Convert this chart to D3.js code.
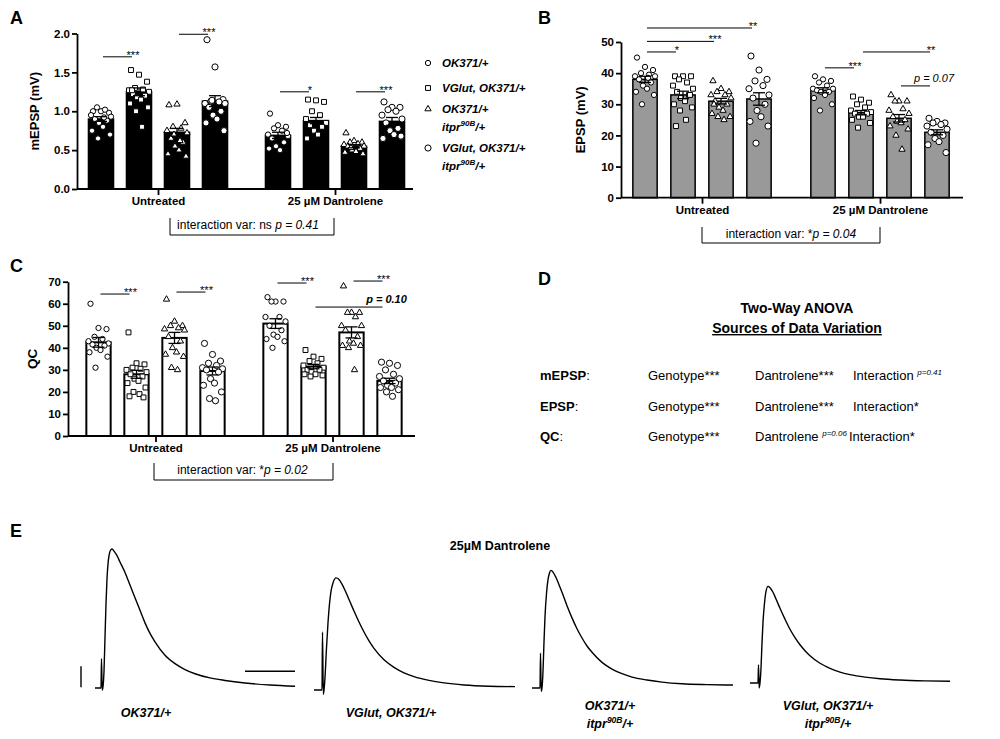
<!DOCTYPE html>
<html><head><meta charset="utf-8">
<script src="https://cdnjs.cloudflare.com/ajax/libs/d3/7.8.5/d3.min.js"></script>
<style>body{margin:0;background:#fff} svg text{font-family:'Liberation Sans',Arial,Helvetica,sans-serif} .sig{opacity:0.999}</style>
</head><body><svg id="fig" width="1000" height="739"></svg>
<script>
// ---------------- DATA ----------------
const groups = ["Untreated", "25 µM Dantrolene"];
const genotypes = ["OK371/+", "VGlut, OK371/+", "OK371/+ itpr90B/+", "VGlut, OK371/+ itpr90B/+"];
const shapes = ["circle", "square", "triangle", "bigcircle"];

// mEPSP (mV) : order = Untreated g1..g4, Dantrolene g1..g4
const mepspMean = [0.90, 1.25, 0.73, 1.13, 0.69, 0.88, 0.55, 0.87];
const mepspSem  = [0.03, 0.05, 0.05, 0.07, 0.04, 0.04, 0.02, 0.05];
const mepspPts = [
  [1.00, 1.00, 0.98, 1.05, 1.02, 0.95, 0.93, 0.90, 0.88, 0.85, 0.80, 0.75, 0.70, 0.65, 0.92],
  [1.53, 1.47, 1.38, 1.30, 1.28, 1.27, 1.25, 1.22, 1.20, 1.18, 1.15, 1.10, 1.05, 1.00, 0.80, 1.27],
  [1.08, 1.09, 0.85, 0.80, 0.78, 0.75, 0.72, 0.65, 0.60, 0.55, 0.50, 0.45, 0.42, 0.70, 0.62],
  [1.92, 1.57, 1.15, 1.13, 1.12, 1.10, 1.10, 1.05, 1.00, 0.95, 0.90, 0.85, 0.75, 1.14],
  [0.97, 0.82, 0.80, 0.78, 0.75, 0.70, 0.68, 0.65, 0.60, 0.55, 0.50, 0.52, 0.72],
  [1.15, 1.14, 1.12, 1.00, 0.95, 0.90, 0.85, 0.82, 0.80, 0.75, 0.70, 0.65],
  [0.72, 0.62, 0.60, 0.60, 0.58, 0.57, 0.55, 0.55, 0.52, 0.50, 0.48, 0.47, 0.45, 0.53],
  [1.12, 1.05, 1.05, 1.02, 1.00, 0.95, 0.90, 0.85, 0.78, 0.75, 0.70, 0.65, 0.68]
];

// EPSP (mV)
const epspMean = [38.0, 33.0, 31.0, 31.7, 34.5, 27.3, 25.5, 21.0];
const epspSem  = [1.0, 1.2, 0.9, 2.0, 0.8, 0.7, 1.2, 0.8];
const epspPts = [
  [45, 42, 41, 40, 39.5, 39, 39, 38, 37, 36, 35, 34, 33, 30, 38.5],
  [39, 39, 39, 38, 37, 36, 35, 34, 33, 32, 31, 30, 29, 28, 25, 23, 33],
  [37.5, 35, 34, 34, 33, 33, 32, 31, 30, 29, 28, 27, 26, 26, 25, 30],
  [45.5, 41, 38, 37.5, 36, 35, 33, 32, 30, 28, 26, 24.5, 23, 17.5],
  [39, 38, 37.5, 37, 36, 35, 35, 34.5, 34, 34, 33, 32, 30, 28],
  [32.5, 31.5, 30.5, 30, 29, 28, 27.5, 27, 27, 26, 26, 25, 24, 22.5],
  [33, 31, 31, 31, 28.5, 28, 27, 26, 25, 24.5, 24, 23, 22, 20, 15.5],
  [25.5, 24.5, 24, 24, 23.5, 23, 22, 21, 20, 19, 18, 17, 14.5]
];

// QC
const qcMean = [42.5, 28.0, 44.5, 29.5, 51.0, 31.5, 47.0, 25.0];
const qcSem  = [2.2, 1.8, 2.5, 1.8, 2.2, 1.0, 2.5, 1.2];
const qcPts = [
  [60, 49, 48.5, 45, 44, 43, 42, 41.5, 41, 40, 39, 38, 36, 31],
  [47, 33, 32.5, 31, 30.5, 30, 29, 28, 27, 26, 25, 24, 22, 20, 19, 18, 17.5],
  [62, 52, 50, 50, 49, 48.5, 48, 45, 43, 40, 38, 37, 36, 31, 30],
  [42, 37, 34, 33, 32, 31, 30.5, 30, 29, 26, 24, 23, 20, 17, 16],
  [63, 61, 61, 61, 54, 54, 52, 50, 48, 46, 45, 44, 43, 40],
  [39, 36, 35, 34, 33, 32, 31, 30, 30, 29, 28, 28, 27.5, 27],
  [68, 56, 56, 56, 54, 50, 50, 48, 45, 43, 42, 41, 41, 40, 30],
  [33.5, 33, 32, 30, 28, 27, 26, 25, 24, 23, 22, 22, 21, 20, 18]
];

// significance: [group, fromBar, toBar, yValue, label]
const sigA = [[0,0,1,1.70,"***"],[0,2,3,1.99,"***"],[1,0,1,1.25,"*"],[1,2,3,1.25,"***"]];
const sigB = [[0,0,3,54.5,"**"],[0,0,2,50.2,"***"],[0,0,1,46.8,"*"],[1,0,1,41.7,"***"],[1,1,3,46.8,"**"],[1,2,3,35.9,"p = 0.07"]];
const sigC = [[0,0,1,64.4,"***"],[0,2,3,65.3,"***"],[1,0,1,69.4,"***"],[1,2,3,70.3,"***"],[1,1,3,58.5,"p = 0.10"]];

const ticksA = [0, 0.5, 1.0, 1.5, 2.0];
const ticksB = [0, 10, 20, 30, 40, 50];
const ticksC = [0, 10, 20, 30, 40, 50, 60, 70];

// ANOVA table
const anovaRows = ["mEPSP", "EPSP", "QC"];
const anovaGenotype = ["***", "***", "***"];
const anovaDantrolene = ["***", "***", "p=0.06"];
const anovaInteraction = ["p=0.41", "*", "*"];

// Representative EPSP traces (time ms, voltage mV above baseline)
const traceT1 = [0,6,6.5,7.2,8,9,10,11,12,13,14,15.5,17,19,22,25,30,35,40,45,50,55,60,70,80,90,100,115,130,150,175,200];
const traceV1 = [0,0,7,-0.5,0.3,4,12,20,26,29.5,31.5,32.8,33.1,32.6,31.5,30,27.5,24.5,21.5,18.5,15.5,13,11,7.8,5.8,4.4,3.4,2.4,1.8,1.2,0.7,0.4];
const traceT2 = [0,8,8.5,9.3,10,11,12.5,14,15.5,17,19,22,25,28,32,36,40,45,50,55,60,70,80,90,100,115,130,150,175,201];
const traceV2 = [0,0,13.8,-1,0,3,10,16,20.5,23.5,25.5,26.7,26.3,25.2,23.2,21,18.8,16.2,13.8,11.7,9.9,7.2,5.4,4.1,3.2,2.3,1.7,1.2,0.9,0.8];
const traceT3 = [0,8,8.5,9.2,10,11,12,13,14.5,16,17.5,19,21,24,27,30,35,40,45,50,55,60,70,80,90,100,115,130,150,175,201];
const traceV3 = [0,0,8.3,-0.8,0,4,11,17,22.5,25.8,27.4,28,27.6,26.3,24.6,22.8,19.6,16.7,14.1,11.9,10,8.5,6.1,4.5,3.4,2.6,1.9,1.4,1,0.8,0.7];
const traceT4 = [0,8,8.5,9.2,10,11,12,13,14.5,16,18,20,23,26,30,35,40,45,50,55,60,70,80,90,100,115,130,150,175,200];
const traceV4 = [0,0,4.3,-1.2,0,3.5,9.5,14.5,19,21.8,23,22.7,21.6,20,17.8,15.2,12.8,10.8,9.1,7.7,6.5,4.7,3.5,2.6,2,1.4,1.0,0.7,0.5,0.4];
const scaleBarMV = 5, scaleBarMS = 50;

// ---------------- DRAWING ----------------
const svg = d3.select("#fig");
const jit = [-8, 0, 8, -4, 4, -10, 10, -6, 6, -2, 2, -9, 9, -3, 3, -7, 7];

function marker(sel, shape) {
  const sym = {
    circle: d3.symbol(d3.symbolCircle, 22),
    bigcircle: d3.symbol(d3.symbolCircle, 30),
    square: d3.symbol(d3.symbolSquare, 24),
    triangle: d3.symbol(d3.symbolTriangle, 17)
  }[shape];
  return sel.attr("d", sym()).attr("fill", "#fff").attr("stroke", "#000").attr("stroke-width", 1);
}

function panelLabel(t, x, y) {
  svg.append("text").attr("x", x).attr("y", y).attr("font-size", 18).attr("font-weight", "bold").text(t);
}

function barPanel(o) {
  const g = svg.append("g");
  const y = d3.scaleLinear().domain([o.ticks[0], o.ticks[o.ticks.length - 1]]).range([o.y0, o.y1]);
  const gx = d3.scalePoint().domain(groups).range(o.groupRange);
  const ix = d3.scaleBand().domain(genotypes).range([-76, 76]).paddingInner(o.pi).paddingOuter(o.pi / 2);
  const bw = ix.bandwidth();
  const cx = (gi, k) => gx(groups[gi]) + ix(genotypes[k]) + bw / 2;

  const bars = [];
  groups.forEach((gr, gi) => genotypes.forEach((ge, k) => {
    const idx = gi * 4 + k;
    bars.push({gi, k, mean: o.mean[idx], sem: o.sem[idx], pts: o.pts[idx]});
  }));

  g.selectAll("rect.bar").data(bars).join("rect")
    .attr("x", d => cx(d.gi, d.k) - bw / 2).attr("width", bw)
    .attr("y", d => y(d.mean)).attr("height", d => y(0) - y(d.mean))
    .attr("fill", o.fill).attr("stroke", "#000").attr("stroke-width", o.strokeW);

  bars.forEach(b => {
    g.selectAll(null).data(b.pts).join("path")
      .call(s => marker(s, shapes[b.k]))
      .attr("transform", (v, i) => `translate(${cx(b.gi, b.k) + jit[i % jit.length]},${y(v)})`);
  });

  bars.forEach(b => {
    const x = cx(b.gi, b.k);
    const eg = g.append("g").attr("stroke", "#000").attr("stroke-width", 1.3);
    eg.append("line").attr("x1", x).attr("x2", x).attr("y1", y(b.mean + b.sem)).attr("y2", y(b.mean - b.sem));
    [b.mean + b.sem, b.mean - b.sem].forEach(v =>
      eg.append("line").attr("x1", x - 6).attr("x2", x + 6).attr("y1", y(v)).attr("y2", y(v)));
  });

  const ya = g.append("g").attr("transform", `translate(${o.axisX},0)`)
    .call(d3.axisLeft(y).tickValues(o.ticks).tickFormat(o.fmt).tickSize(5).tickSizeOuter(0));
  ya.select(".domain").attr("stroke-width", 1.8);
  ya.selectAll(".tick line").attr("stroke-width", 1.8);
  ya.selectAll(".tick text").attr("font-size", 11.5).attr("font-weight", "bold").attr("fill", "#000")
    .attr("font-family", "'Liberation Sans',Arial,sans-serif").attr("x", -7);

  g.append("line").attr("x1", o.axisX).attr("x2", o.axisEnd).attr("y1", y(0)).attr("y2", y(0))
    .attr("stroke", "#000").attr("stroke-width", 1.8);
  const xa = g.append("g").attr("transform", `translate(0,${y(0)})`)
    .call(d3.axisBottom(gx).tickSize(6).tickSizeOuter(0));
  xa.select(".domain").remove();
  xa.selectAll(".tick line").attr("stroke-width", 1.8);
  xa.selectAll(".tick text").attr("font-size", 11.5).attr("font-weight", "bold").attr("fill", "#000")
    .attr("font-family", "'Liberation Sans',Arial,sans-serif").attr("dy", "0.55em").attr("y", 10);

  g.append("text").attr("transform", `translate(${o.labelX},${(o.y0 + o.y1) / 2 + o.labelDy}) rotate(-90)`)
    .attr("text-anchor", "middle").attr("font-size", o.labelSize).attr("font-weight", "bold").text(o.label);

  o.sig.forEach(([gi, a, b, v, lab]) => {
    const x1 = cx(gi, a) + 2, x2 = cx(gi, b) - 7, yy = y(v);
    g.append("line").attr("x1", x1).attr("x2", x2).attr("y1", yy).attr("y2", yy)
      .attr("stroke", "#000").attr("stroke-width", 1);
    const isP = lab.startsWith("p");
    g.append("text").attr("class", "sig").attr("x", isP ? x2 + 4 : x2 + 1).attr("y", isP ? yy - 4 : yy + 2)
      .attr("text-anchor", "middle").attr("font-size", isP ? 11 : 11).attr("fill", "#000")
      .attr("font-style", isP ? "italic" : "normal").attr("font-weight", isP && o.pBold ? "bold" : "normal")
      .text(lab);
  });

  const br = o.bracket;
  g.append("path").attr("d", `M${br.x0},${br.top}V${br.bot}H${br.x1}V${br.top}`)
    .attr("fill", "none").attr("stroke", "#000").attr("stroke-width", 1);
  const t = g.append("text").attr("x", (br.x0 + br.x1) / 2 + br.dx).attr("y", br.top + 11)
    .attr("text-anchor", "middle").attr("font-size", 12);
  t.append("tspan").text(br.pre);
  t.append("tspan").attr("font-style", "italic").text(br.p);
}

// Panel A
panelLabel("A", 10, 24);
barPanel({
  mean: mepspMean, sem: mepspSem, pts: mepspPts, ticks: ticksA, fmt: d3.format(".1f"),
  axisX: 77, axisEnd: 413, y0: 189, y1: 33.5, groupRange: [158, 335], pi: 0.34,
  fill: "#000", strokeW: 1.5, label: "mEPSP (mV)", labelX: 39, labelDy: 0, labelSize: 13,
  sig: sigA, pBold: false,
  bracket: {x0: 170, x1: 334, top: 218, bot: 235, pre: "interaction var: ns ", p: "p = 0.41", dx: -4}
});

// Legend A
const legendItems = [
  {shape: "circle", y: 63, l1: "OK371/+", sup: false},
  {shape: "square", y: 88, l1: "VGlut, OK371/+", sup: false},
  {shape: "triangle", y: 109, l1: "OK371/+", sup: true},
  {shape: "bigcircle", y: 148, l1: "VGlut, OK371/+", sup: true}
];
legendItems.forEach(it => {
  svg.append("path").call(s => marker(s, it.shape)).attr("transform", `translate(428,${it.y})`);
  svg.append("text").attr("x", 442).attr("y", it.y + 4).attr("font-size", 11.5)
    .attr("font-weight", "bold").attr("font-style", "italic").text(it.l1);
  if (it.sup) {
    const t = svg.append("text").attr("x", 442).attr("y", it.y + 22).attr("font-size", 11.5)
      .attr("font-weight", "bold").attr("font-style", "italic");
    t.append("tspan").text("itpr");
    t.append("tspan").attr("font-size", 8).attr("dy", -5).text("90B");
    t.append("tspan").attr("dy", 5).text("/+");
  }
});

// Panel B
panelLabel("B", 538, 24);
barPanel({
  mean: epspMean, sem: epspSem, pts: epspPts, ticks: ticksB, fmt: d3.format("d"),
  axisX: 621, axisEnd: 963, y0: 197.7, y1: 42, groupRange: [702, 880], pi: 0.36,
  fill: "#999", strokeW: 1.5, label: "EPSP (mV)", labelX: 585, labelDy: 0, labelSize: 13,
  sig: sigB, pBold: false,
  bracket: {x0: 702, x1: 880, top: 227, bot: 243, pre: "interaction var: *", p: "p = 0.04", dx: 0}
});

// Panel C
panelLabel("C", 10, 272);
barPanel({
  mean: qcMean, sem: qcSem, pts: qcPts, ticks: ticksC, fmt: d3.format("d"),
  axisX: 68, axisEnd: 415, y0: 436, y1: 281.7, groupRange: [155.5, 332.5], pi: 0.36,
  fill: "#fff", strokeW: 2, label: "QC", labelX: 37, labelDy: 0, labelSize: 13.5,
  sig: sigC, pBold: true,
  bracket: {x0: 154, x1: 333, top: 463, bot: 480, pre: "interaction var: *", p: "p = 0.02", dx: -1}
});

// Panel D
panelLabel("D", 538, 285);
svg.append("text").attr("x", 797).attr("y", 313).attr("text-anchor", "middle")
  .attr("font-size", 14).attr("font-weight", "bold").text("Two-Way ANOVA");
svg.append("text").attr("x", 797).attr("y", 333).attr("text-anchor", "middle")
  .attr("font-size", 14).attr("font-weight", "bold").attr("text-decoration", "underline")
  .text("Sources of Data Variation");
const rowY = d3.scalePoint().domain(anovaRows).range([380, 441]);
function sigText(sel, base, s) {
  sel.append("tspan").text(base);
  if (s.startsWith("p")) {
    sel.append("tspan").text(" ");
    sel.append("tspan").attr("font-size", 8).attr("font-style", "italic").attr("dy", -5).text(s);
  } else sel.append("tspan").text(s);
}
anovaRows.forEach((r, i) => {
  const yy = rowY(r);
  svg.append("text").attr("x", 540).attr("y", yy).attr("font-size", 13).attr("font-weight", "bold").text(r)
    .append("tspan").attr("font-weight", "normal").text(":");
  svg.append("text").attr("x", 648).attr("y", yy).attr("font-size", 13).call(s => sigText(s, "Genotype", anovaGenotype[i]));
  svg.append("text").attr("x", 755).attr("y", yy).attr("font-size", 13).call(s => sigText(s, "Dantrolene", anovaDantrolene[i]));
  svg.append("text").attr("x", anovaDantrolene[i].startsWith("p") ? 849 : 853).attr("y", yy).attr("font-size", 13)
    .call(s => sigText(s, "Interaction", anovaInteraction[i]));
});

// Panel E
panelLabel("E", 10, 537);
svg.append("text").attr("x", 500).attr("y", 550).attr("text-anchor", "middle")
  .attr("font-size", 12.5).attr("font-weight", "bold").text("25µM Dantrolene");

const traces = [
  {t: traceT1, v: traceV1, x0: 95, base: 688, label: ["OK371/+"], cx: 146},
  {t: traceT2, v: traceV2, x0: 314, base: 690, label: ["VGlut, OK371/+"], cx: 391},
  {t: traceT3, v: traceV3, x0: 532, base: 688, label: ["OK371/+", "itpr"], cx: 610},
  {t: traceT4, v: traceV4, x0: 750, base: 683, label: ["VGlut, OK371/+", "itpr"], cx: 828}
];
const pxPerMV = 4.2;
traces.forEach((tr, k) => {
  const xs = d3.scaleLinear().domain([0, 200]).range([tr.x0, tr.x0 + 200]);
  const ys = d3.scaleLinear().domain([0, 10]).range([tr.base, tr.base - 10 * pxPerMV]);
  const line = d3.line().x(d => xs(d[0])).y(d => ys(d[1])).curve(d3.curveMonotoneX);
  svg.append("path").datum(tr.t.map((t, i) => [t, tr.v[i]])).attr("d", line)
    .attr("fill", "none").attr("stroke", "#000").attr("stroke-width", 1.4);
  if (k === 0) {
    svg.append("line").attr("x1", xs(-14)).attr("x2", xs(-14)).attr("y1", ys(0.2)).attr("y2", ys(0.2 + scaleBarMV))
      .attr("stroke", "#000").attr("stroke-width", 1.4);
    svg.append("line").attr("x1", xs(200 - scaleBarMS)).attr("x2", xs(200)).attr("y1", ys(4)).attr("y2", ys(4))
      .attr("stroke", "#000").attr("stroke-width", 1.4);
  }
  const ly = tr.label.length === 1 ? 713 : 706;
  tr.label.forEach((l, j) => {
    const t = svg.append("text").attr("x", tr.cx).attr("y", ly + j * 18 + 4).attr("text-anchor", "middle")
      .attr("font-size", 12.5).attr("font-weight", "bold").attr("font-style", "italic");
    if (j === 0) t.text(l);
    else {
      t.append("tspan").text("itpr");
      t.append("tspan").attr("font-size", 8.5).attr("dy", -5).text("90B");
      t.append("tspan").attr("dy", 5).text("/+");
    }
  });
});
</script></body></html>
